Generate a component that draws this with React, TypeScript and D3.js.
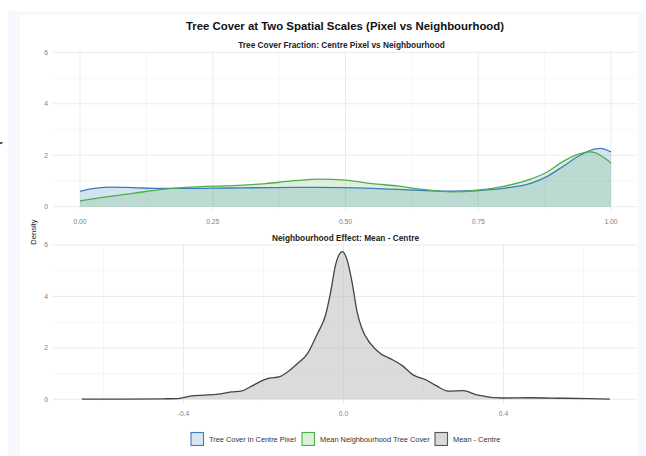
import React from "react";
import * as d3 from "d3";

// tree cover fraction grid and densities
const coverGrid = [0, 0.03, 0.06, 0.1, 0.15, 0.2, 0.25, 0.3, 0.35, 0.4, 0.45, 0.5, 0.55, 0.6, 0.65, 0.7, 0.75, 0.8, 0.85, 0.88, 0.91, 0.94, 0.96, 0.97, 0.98, 0.99, 1.0];
const pixelDensity = [0.6, 0.72, 0.76, 0.74, 0.71, 0.71, 0.72, 0.73, 0.74, 0.75, 0.75, 0.74, 0.71, 0.67, 0.63, 0.6, 0.63, 0.72, 0.92, 1.18, 1.57, 1.98, 2.18, 2.25, 2.27, 2.22, 2.13];
const neighDensity = [0.23, 0.32, 0.41, 0.52, 0.66, 0.75, 0.8, 0.83, 0.9, 1.0, 1.07, 1.03, 0.9, 0.8, 0.66, 0.58, 0.64, 0.8, 1.08, 1.35, 1.76, 2.05, 2.13, 2.1, 2.0, 1.86, 1.7];

// mean - centre difference
const diffGrid = [-0.654, -0.55, -0.45, -0.414, -0.38, -0.348, -0.314, -0.28, -0.256, -0.231, -0.206, -0.186, -0.161, -0.14, -0.115, -0.09, -0.065, -0.045, -0.032, -0.02, -0.003, 0.009, 0.022, 0.034, 0.046, 0.067, 0.092, 0.117, 0.146, 0.175, 0.208, 0.233, 0.262, 0.299, 0.333, 0.399, 0.465, 0.548, 0.666];
const diffDensity = [0.01, 0.01, 0.02, 0.03, 0.13, 0.16, 0.2, 0.29, 0.32, 0.5, 0.71, 0.82, 0.87, 1.06, 1.39, 1.78, 2.56, 3.27, 4.18, 5.22, 5.74, 5.42, 4.5, 3.4, 2.75, 2.17, 1.78, 1.58, 1.32, 0.94, 0.74, 0.52, 0.32, 0.34, 0.17, 0.05, 0.06, 0.04, 0.01];

const yTicks = [0, 2, 4, 6];
const yMinor = [1, 3, 5];
const coverTicks = [0, 0.25, 0.5, 0.75, 1];
const coverMinor = [0.125, 0.375, 0.625, 0.875];
const diffTicks = [-0.4, 0, 0.4];
const diffMinor = [-0.6, -0.2, 0.2, 0.6];

const legendItems = [
  { label: "Tree Cover in Centre Pixel", fill: "#d7e5f1", stroke: "#3b7dbf" },
  { label: "Mean Neighbourhood Tree Cover", fill: "#dbefd9", stroke: "#4caf4a" },
  { label: "Mean - Centre", fill: "#d9d9d9", stroke: "#555555" },
];

const FONT = "Liberation Sans, Arial, Helvetica, sans-serif";

export default function App() {
  const left = 53,
    right = 637;

  const coverX = d3.scaleLinear().domain([0, 1]).range([80, 611]);
  const diffX = d3.scaleLinear().domain([-0.4, 0.4]).range([183.5, 503.5]);
  const topY = d3.scaleLinear().domain([0, 6]).range([206.7, 52.3]);
  const botY = d3.scaleLinear().domain([0, 6]).range([399.3, 245]);

  const topArea = (vals: number[]) =>
    d3
      .area<number>()
      .x((_, i) => coverX(coverGrid[i]))
      .y0(topY(0))
      .y1((d) => topY(d))
      .curve(d3.curveMonotoneX)(vals) || "";
  const topLine = (vals: number[]) =>
    d3
      .line<number>()
      .x((_, i) => coverX(coverGrid[i]))
      .y((d) => topY(d))
      .curve(d3.curveMonotoneX)(vals) || "";

  const diffArea =
    d3
      .area<number>()
      .x((_, i) => diffX(diffGrid[i]))
      .y0(botY(0))
      .y1((d) => botY(d))
      .curve(d3.curveMonotoneX)(diffDensity) || "";
  const diffLine =
    d3
      .line<number>()
      .x((_, i) => diffX(diffGrid[i]))
      .y((d) => botY(d))
      .curve(d3.curveMonotoneX)(diffDensity) || "";

  const grid = (
    y: d3.ScaleLinear<number, number>,
    x: d3.ScaleLinear<number, number>,
    xt: number[],
    xm: number[],
    yTop: number,
    yBot: number
  ) => (
    <g>
      {yMinor.map((t) => (
        <line key={"ym" + t} x1={left} x2={right} y1={y(t)} y2={y(t)} stroke="#f2f2f2" strokeWidth={0.6} />
      ))}
      {xm.map((t) => (
        <line key={"xm" + t} x1={x(t)} x2={x(t)} y1={yTop} y2={yBot} stroke="#f2f2f2" strokeWidth={0.6} />
      ))}
      {yTicks.map((t) => (
        <line key={"y" + t} x1={left} x2={right} y1={y(t)} y2={y(t)} stroke="#e9e9e9" strokeWidth={0.9} />
      ))}
      {xt.map((t) => (
        <line key={"x" + t} x1={x(t)} x2={x(t)} y1={yTop} y2={yBot} stroke="#e9e9e9" strokeWidth={0.9} />
      ))}
      {yTicks.map((t) => (
        <text key={"yl" + t} x={48} y={y(t) + 2.4} textAnchor="end" fontSize={6.8} fill="#808080">
          {t}
        </text>
      ))}
    </g>
  );

  const legendX = [191, 302, 435];

  return (
    <svg width={646} height={456} style={{ position: "absolute", left: 0, top: 0 }} fontFamily={FONT}>
      <rect x={0} y={0} width={646} height={456} fill="#fff" />
      <rect x={8} y={11} width={636} height={445} fill="#f7f8fd" />
      <rect x={20} y={15} width={618} height={441} fill="#fff" />
      <text x={-4} y={153} fontSize={20} fill="#111">r</text>

      <text x={345} y={30} textAnchor="middle" fontSize={11.4} fontWeight="bold" fill="#111">
        Tree Cover at Two Spatial Scales (Pixel vs Neighbourhood)
      </text>

      {/* top panel */}
      <text x={341.5} y={47.8} textAnchor="middle" fontSize={8.3} fontWeight="bold" fill="#222">
        Tree Cover Fraction: Centre Pixel vs Neighbourhood
      </text>
      {grid(topY, coverX, coverTicks, coverMinor, 50.5, 211)}
      <path d={topArea(pixelDensity)} fill="#377eb8" fillOpacity={0.22} />
      <path d={topArea(neighDensity)} fill="#4daf4a" fillOpacity={0.18} />
      <path d={topLine(pixelDensity)} fill="none" stroke="#3b7dbf" strokeWidth={1.3} />
      <path d={topLine(neighDensity)} fill="none" stroke="#4caf4a" strokeWidth={1.3} />
      {coverTicks.map((t) => (
        <text key={t} x={coverX(t)} y={224.2} textAnchor="middle" fontSize={6.8} fill="#808080">
          {t.toFixed(2)}
        </text>
      ))}

      {/* bottom panel */}
      <text x={345.5} y={241} textAnchor="middle" fontSize={8.3} fontWeight="bold" fill="#222">
        Neighbourhood Effect: Mean - Centre
      </text>
      {grid(botY, diffX, diffTicks, diffMinor, 243.5, 403.5)}
      <path d={diffArea} fill="#bdbdbd" fillOpacity={0.55} />
      <path d={diffLine} fill="none" stroke="#444" strokeWidth={1.3} />
      {diffTicks.map((t) => (
        <text key={t} x={diffX(t)} y={415.8} textAnchor="middle" fontSize={6.8} fill="#808080">
          {t.toFixed(1)}
        </text>
      ))}

      <text transform="translate(35.5,232) rotate(-90)" textAnchor="middle" fontSize={7.6} fill="#222">
        Density
      </text>

      {/* legend */}
      {legendItems.map((it, i) => (
        <g key={it.label} transform={`translate(${legendX[i]},432.5)`}>
          <rect x={0} y={0} width={12.5} height={13} fill={it.fill} stroke={it.stroke} strokeWidth={1.1} />
          <text x={18} y={9.3} fontSize={7.4} fill="#333">
            {it.label}
          </text>
        </g>
      ))}
    </svg>
  );
}
